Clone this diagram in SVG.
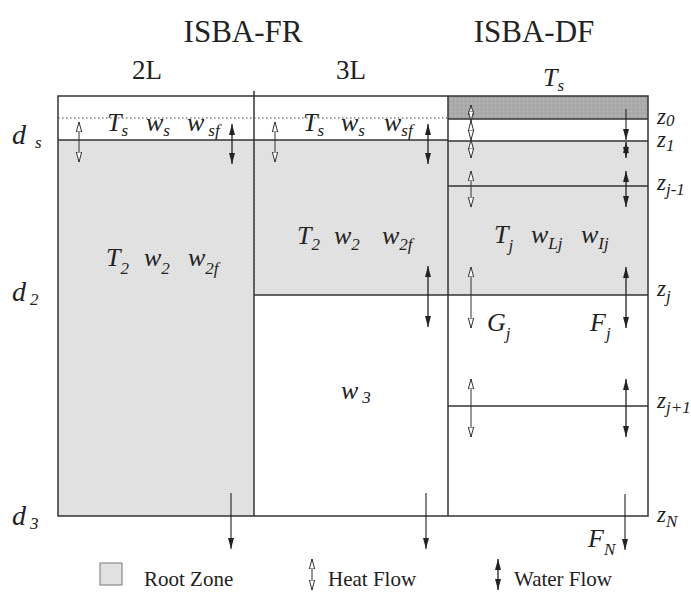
<svg xmlns="http://www.w3.org/2000/svg" width="691" height="609" viewBox="0 0 691 609">
<style>
text{font-family:"Liberation Serif","Times New Roman",serif;fill:#222}
.hd{font-size:31px}
.sub2{font-size:27px}
.m{font-style:italic;font-size:26px}
.d{font-style:italic;font-size:28px}
.z{font-style:italic;font-size:23px}
.s{font-size:17px}
.lg{font-size:21px}
.ln{stroke:#333;stroke-width:1.5;fill:none}
.heat{stroke:#333;stroke-width:1;marker-start:url(#hh);marker-end:url(#hh)}
.wat{stroke:#222;stroke-width:1.3;marker-start:url(#wh);marker-end:url(#wh)}
.wd{stroke:#222;stroke-width:1.1;marker-end:url(#wh)}
</style>
<defs>
<pattern id="root" width="4" height="4" patternUnits="userSpaceOnUse">
<rect width="4" height="4" fill="#e3e3e3"/>
<rect x="1" y="1" width="1" height="1" fill="#cfcfcf"/>
<rect x="3" y="3" width="1" height="1" fill="#d6d6d6"/>
</pattern>
<pattern id="dark" width="4" height="4" patternUnits="userSpaceOnUse">
<rect width="4" height="4" fill="#ababab"/>
<rect x="1" y="1" width="1" height="1" fill="#999"/>
<rect x="3" y="3" width="1" height="1" fill="#b8b8b8"/>
</pattern>
<marker id="hh" viewBox="0 0 10 10" refX="10" refY="5" markerWidth="10" markerHeight="10" markerUnits="userSpaceOnUse" orient="auto-start-reverse">
<path d="M0,2.3 L10,5 L0,7.7 Z" fill="#fff" stroke="#333" stroke-width="1"/>
</marker>
<marker id="wh" viewBox="0 0 10 10" refX="10" refY="5" markerWidth="11" markerHeight="11" markerUnits="userSpaceOnUse" orient="auto-start-reverse">
<path d="M0,2.3 L10,5 L0,7.7 Z" fill="#222"/>
</marker>
</defs>

<g id="titles">
<text class="hd" x="243" y="42" text-anchor="middle">ISBA-FR</text>
<text class="hd" x="534" y="42" text-anchor="middle">ISBA-DF</text>
<text class="sub2" x="147" y="79" text-anchor="middle">2L</text>
<text class="sub2" x="351" y="79" text-anchor="middle">3L</text>
<text class="m" x="543" y="86">T<tspan class="s" dy="5">s</tspan></text>
</g>

<g id="col-2L">
<rect x="58" y="140" width="196" height="376" fill="url(#root)"/>
<text class="m" x="107" y="131">T<tspan class="s" dy="5">s</tspan></text>
<text class="m" x="146" y="131">w<tspan class="s" dy="5">s</tspan></text>
<text class="m" x="187" y="131">w<tspan class="s" dx="4" dy="5">sf</tspan></text>
<text class="m" x="106" y="266">T<tspan class="s" dy="8">2</tspan></text>
<text class="m" x="144" y="266">w<tspan class="s" dy="8">2</tspan></text>
<text class="m" x="188" y="266">w<tspan class="s" dy="8">2f</tspan></text>
</g>

<g id="col-3L">
<rect x="254" y="140" width="194" height="155" fill="url(#root)"/>
<text class="m" x="303" y="131">T<tspan class="s" dy="5">s</tspan></text>
<text class="m" x="341" y="131">w<tspan class="s" dy="5">s</tspan></text>
<text class="m" x="384" y="131">w<tspan class="s" dy="5">sf</tspan></text>
<text class="m" x="297" y="244">T<tspan class="s" dy="6">2</tspan></text>
<text class="m" x="334" y="244">w<tspan class="s" dy="6">2</tspan></text>
<text class="m" x="382" y="244">w<tspan class="s" dy="6">2f</tspan></text>
<text class="m" x="341" y="399">w<tspan class="s" dx="4" dy="4">3</tspan></text>
</g>

<g id="col-DF">
<rect x="448" y="96" width="200" height="23" fill="url(#dark)"/>
<rect x="448" y="141" width="200" height="154" fill="url(#root)"/>
<text class="m" x="494" y="243">T<tspan class="s" dy="8">j</tspan></text>
<text class="m" x="531" y="243">w<tspan class="s" dy="6">Lj</tspan></text>
<text class="m" x="581" y="243">w<tspan class="s" dy="6">Ij</tspan></text>
<text class="m" x="487" y="331">G<tspan class="s" dy="8">j</tspan></text>
<text class="m" x="590" y="331">F<tspan class="s" dy="8">j</tspan></text>
<text class="m" x="588" y="547">F<tspan class="s" dy="8">N</tspan></text>
</g>

<g id="grid">
<rect class="ln" x="58" y="96" width="590" height="420"/>
<line class="ln" x1="254" y1="91" x2="254" y2="516"/>
<line class="ln" x1="448" y1="96" x2="448" y2="516"/>
<line class="ln" x1="58" y1="140" x2="448" y2="140"/>
<line x1="58" y1="118" x2="448" y2="118" stroke="#444" stroke-width="1" stroke-dasharray="1.5,2.5"/>
<line class="ln" x1="448" y1="119" x2="648" y2="119"/>
<line class="ln" x1="448" y1="141" x2="648" y2="141"/>
<line class="ln" x1="448" y1="186" x2="648" y2="186"/>
<line class="ln" x1="254" y1="295" x2="648" y2="295"/>
<line class="ln" x1="448" y1="406" x2="648" y2="406"/>
</g>

<g id="depth-labels">
<text class="d" x="12" y="144">d<tspan class="s" dx="9" dy="4">s</tspan></text>
<text class="d" x="12" y="301">d<tspan class="s" dx="4" dy="4">2</tspan></text>
<text class="d" x="12" y="525">d<tspan class="s" dx="4" dy="4">3</tspan></text>
<text class="z" x="657" y="124">z<tspan class="s" dy="2">0</tspan></text>
<text class="z" x="657" y="147">z<tspan class="s" dy="4">1</tspan></text>
<text class="z" x="657" y="190">z<tspan class="s" dy="5">j-1</tspan></text>
<text class="z" x="657" y="296">z<tspan class="s" dy="6">j</tspan></text>
<text class="z" x="657" y="408">z<tspan class="s" dy="5">j+1</tspan></text>
<text class="z" x="657" y="522">z<tspan class="s" dy="5">N</tspan></text>
</g>

<g id="connectors">
<line class="heat" x1="79" y1="122" x2="79" y2="162"/>
<line class="wat" x1="232" y1="124" x2="232" y2="164"/>
<line class="heat" x1="275" y1="122" x2="275" y2="162"/>
<line class="wat" x1="428" y1="124" x2="428" y2="164"/>
<line class="wat" x1="428" y1="266" x2="428" y2="327"/>
<line class="heat" x1="471" y1="105" x2="471" y2="121"/>
<line class="heat" x1="471" y1="121" x2="471" y2="140"/>
<line class="heat" x1="471" y1="140" x2="471" y2="158"/>
<line class="heat" x1="471" y1="171" x2="471" y2="207"/>
<line class="heat" x1="471" y1="267" x2="471" y2="328"/>
<line class="heat" x1="471" y1="379" x2="471" y2="437"/>
<line class="wd" x1="626" y1="109" x2="626" y2="140"/>
<line class="wat" x1="626" y1="142" x2="626" y2="158"/>
<line class="wat" x1="626" y1="171" x2="626" y2="207"/>
<line class="wat" x1="626" y1="267" x2="626" y2="328"/>
<line class="wat" x1="626" y1="379" x2="626" y2="437"/>
<line class="wd" x1="231" y1="493" x2="231" y2="549"/>
<line class="wd" x1="426" y1="493" x2="426" y2="549"/>
<line class="wd" x1="625" y1="494" x2="625" y2="550"/>
</g>

<g id="legend">
<rect x="100" y="563" width="22" height="22" fill="url(#root)" stroke="#777" stroke-width="1"/>
<text class="lg" x="144" y="586">Root Zone</text>
<line class="heat" x1="312" y1="559" x2="312" y2="590"/>
<text class="lg" x="328" y="586">Heat Flow</text>
<line class="wat" x1="498" y1="559" x2="498" y2="590"/>
<text class="lg" x="514" y="586">Water Flow</text>
</g>
</svg>
